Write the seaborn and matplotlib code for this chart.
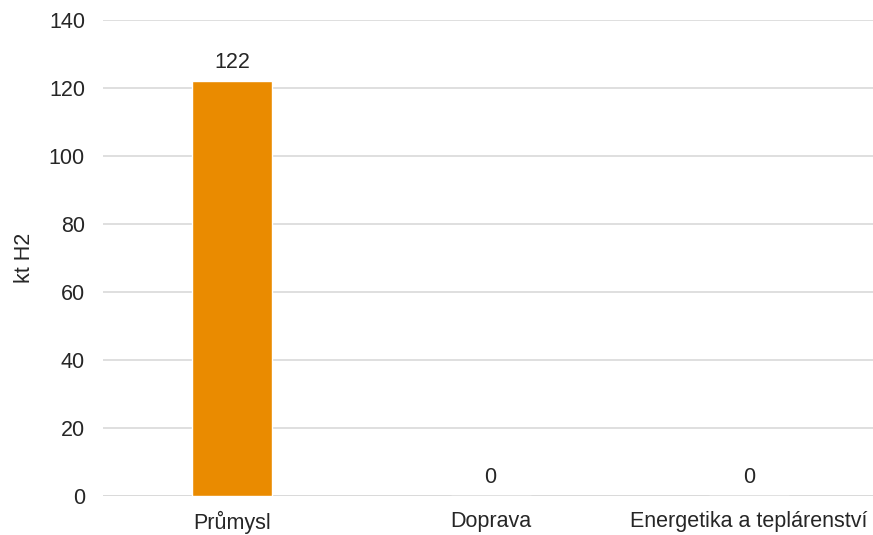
import matplotlib
matplotlib.use("Agg")
import matplotlib.pyplot as plt
import seaborn as sns
import pandas as pd

# Spotřeba vodíku podle sektoru
categories = ["Průmysl", "Doprava", "Energetika a teplárenství"]
values = [122, 0, 0]
y_ticks = [0, 20, 40, 60, 80, 100, 120, 140]

bar_color = "#EA8B00"
grid_color = "#D9D9D9"
text_color = "#262626"

sns.set_theme(style="white")
plt.rcParams["font.family"] = ["Liberation Sans", "DejaVu Sans"]

df = pd.DataFrame({"sektor": categories, "kt": values})

fig = plt.figure(figsize=(8.73, 5.35), dpi=100)
ax = fig.add_axes([103 / 873, 1 - 496 / 535, 770 / 873, 476 / 535])

sns.barplot(data=df, x="sektor", y="kt", color=bar_color, width=0.31,
            saturation=1, ax=ax, zorder=3)

ax.set_ylim(0, 140)
ax.set_xlim(-0.5, 2.48)
ax.set_yticks(y_ticks)
ax.yaxis.grid(True, color=grid_color, linewidth=1.2, zorder=0)
ax.xaxis.grid(False)
for s in ax.spines.values():
    s.set_visible(False)
ax.axhline(0, color=grid_color, linewidth=1.2, zorder=1)

ax.tick_params(axis="both", length=0, labelsize=15.5, colors=text_color)
ax.tick_params(axis="y", pad=13)
ax.tick_params(axis="x", pad=11)
ax.set_xlabel("")
ax.set_ylabel("kt H2", fontsize=15.5, color=text_color, labelpad=10)

for c in ax.containers:
    ax.bar_label(c, labels=[str(v) for v in values], padding=6,
                 fontsize=15.5, color=text_color)

fig.savefig("out.png", dpi=100)
